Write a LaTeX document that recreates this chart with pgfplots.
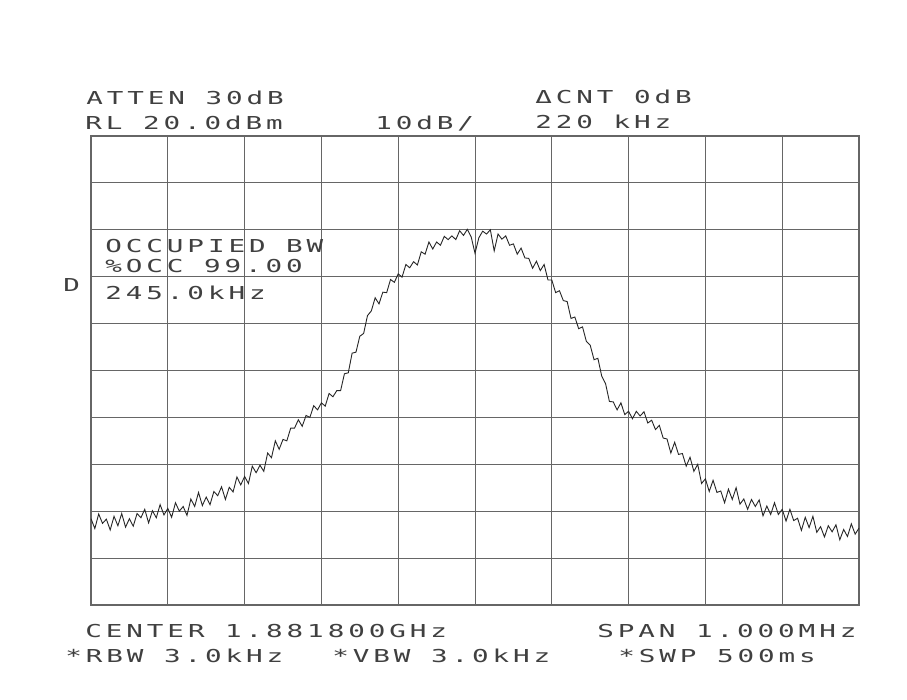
\documentclass[border=0pt]{standalone}
\usepackage{fontspec}
\usepackage{pgfplots}
\usepackage{pgfplotstable}
\pgfplotsset{compat=1.18}
\newfontfamily\plotfont[LetterSpace=22,FakeStretch=1.55]{DejaVu Sans Mono}

\pgfplotstableread{
f dB
-500 -61.6
-495 -63.7
-490 -60.6
-485 -62.6
-480 -61.7
-475 -64.0
-470 -61.1
-465 -63.1
-460 -60.5
-455 -63.4
-450 -61.6
-445 -63.2
-440 -60.5
-435 -61.4
-430 -59.6
-425 -62.5
-420 -59.9
-415 -61.4
-410 -58.6
-405 -60.8
-400 -59.4
-395 -61.3
-390 -58.2
-385 -60.0
-380 -59.0
-375 -60.9
-370 -57.4
-365 -59.0
-360 -56.0
-355 -58.8
-350 -57.0
-345 -58.6
-340 -55.8
-335 -56.7
-330 -54.8
-325 -57.5
-320 -54.9
-315 -55.9
-310 -52.7
-305 -54.4
-300 -52.6
-295 -54.1
-290 -50.4
-285 -51.8
-280 -50.2
-275 -51.5
-270 -47.6
-265 -48.6
-260 -45.0
-255 -46.8
-250 -44.7
-245 -45.0
-240 -42.3
-235 -42.3
-230 -40.5
-225 -41.9
-220 -39.6
-215 -40.0
-210 -37.5
-205 -38.4
-200 -36.9
-195 -37.6
-190 -34.9
-185 -35.6
-180 -34.3
-175 -34.3
-170 -30.7
-165 -30.5
-160 -26.3
-155 -26.1
-150 -22.7
-145 -22.1
-140 -18.3
-135 -17.3
-130 -14.5
-125 -15.8
-120 -13.3
-115 -13.4
-110 -10.6
-105 -11.2
-100 -9.4
-95 -10.1
-90 -7.4
-85 -8.1
-80 -6.8
-75 -7.5
-70 -4.7
-65 -5.2
-60 -2.6
-55 -4.1
-50 -2.6
-45 -3.3
-40 -1.4
-35 -2.1
-30 -1.3
-25 -2.1
-20 -0.2
-15 -1.2
-10 0.1
-5 -1.5
0 -5.0
5 -1.7
10 -0.3
15 -0.9
20 0.0
25 -4.5
30 -0.9
35 -2.0
40 -1.3
45 -3.3
50 -3.0
55 -5.2
60 -3.9
65 -6.0
70 -6.1
75 -8.2
80 -6.7
85 -8.7
90 -7.4
95 -10.7
100 -10.7
105 -13.4
110 -13.0
115 -15.1
120 -15.3
125 -18.9
130 -18.6
135 -21.1
140 -20.7
145 -23.8
150 -24.6
155 -27.7
160 -27.4
165 -31.2
170 -32.8
175 -36.6
180 -36.7
185 -38.4
190 -36.9
195 -39.4
200 -38.7
205 -40.3
210 -38.7
215 -39.7
220 -38.8
225 -41.2
230 -40.6
235 -42.6
240 -41.7
245 -44.4
250 -44.6
255 -47.6
260 -45.3
265 -47.9
270 -47.7
275 -50.4
280 -48.5
285 -51.5
290 -50.0
295 -54.1
300 -53.1
305 -55.8
310 -53.4
315 -56.0
320 -55.7
325 -58.2
330 -55.3
335 -57.5
340 -55.0
345 -58.5
350 -57.4
355 -59.6
360 -57.5
365 -59.0
370 -57.6
375 -61.0
380 -58.9
385 -60.7
390 -58.2
395 -60.7
400 -59.6
405 -62.1
410 -59.6
415 -62.0
420 -61.5
425 -64.1
430 -61.3
435 -63.5
440 -61.1
445 -64.5
450 -63.3
455 -65.5
460 -63.1
465 -64.4
470 -62.9
475 -66.1
480 -63.9
485 -65.4
490 -62.7
495 -64.9
500 -63.6
}\trace

\begin{document}
\begin{tikzpicture}
\useasboundingbox (0,0) rectangle (453.5pt,350pt);
\fill[white] (0,0) rectangle (453.5pt,350pt);
\begin{axis}[
  at={(45.5pt,47.5pt)}, anchor=south west,
  scale only axis, width=384pt, height=234.5pt,
  xmin=-500, xmax=500, ymin=-80, ymax=20,
  xtick={-500,-400,...,500}, ytick={-80,-70,...,20},
  xticklabels={}, yticklabels={},
  major tick length=0pt,
  grid=major,
  major grid style={black!60, line width=0.5pt},
  axis line style={black!60, line width=0.6pt},
]
\addplot[black!85, line width=0.45pt] table[x=f, y=dB] {\trace};
\end{axis}
\begin{scope}[every node/.style={anchor=base west, inner sep=0pt, text=black!75, font=\plotfont\fontsize{8.9}{10}\selectfont}]
\node at (43pt,297.5pt) {ATTEN 30dB};
\node at (42.5pt,285pt) {RL 20.0dBm};
\node at (187.5pt,285pt) {10dB/};
\node at (267.5pt,298pt) {ΔCNT 0dB};
\node at (267.5pt,285.5pt) {220 kHz};
\node at (52.5pt,223.5pt) {OCCUPIED BW};
\node at (52.5pt,213.5pt) {\%OCC 99.00};
\node at (52.5pt,200pt) {245.0kHz};
\node at (31.5pt,204pt) {D};
\node at (42.5pt,31pt) {CENTER 1.881800GHz};
\node at (298.5pt,31pt) {SPAN 1.000MHz};
\node at (32.5pt,18.5pt) {*RBW 3.0kHz};
\node at (166pt,18.5pt) {*VBW 3.0kHz};
\node at (309pt,18.5pt) {*SWP 500ms};
\end{scope}
\end{tikzpicture}
\end{document}
